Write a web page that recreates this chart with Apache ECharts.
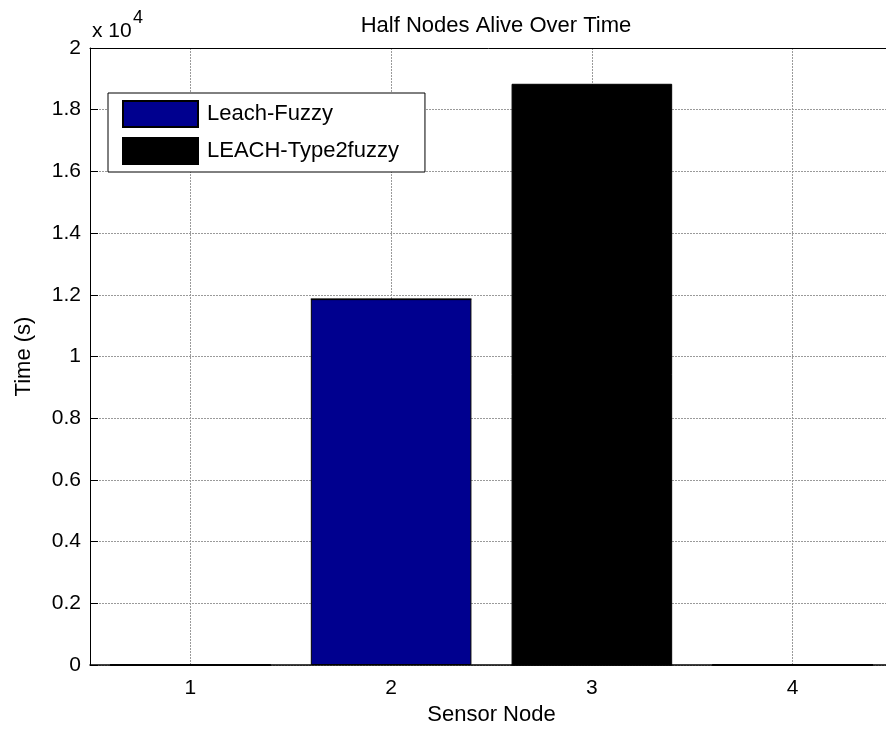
<!DOCTYPE html>
<html>
<head>
<meta charset="utf-8">
<script src="https://cdn.jsdelivr.net/npm/echarts@6/dist/echarts.min.js"></script>
<style>
html,body{margin:0;padding:0;background:#fff;}
#chart{width:886px;height:731px;}
</style>
</head>
<body>
<div id="chart"></div>
<script>
var categories = ['1', '2', '3', '4'];
var leachFuzzy = [0, 11860, 0, 0];
var leachType2 = [0, 0, 18840, 0];
var seriesNames = ['Leach-Fuzzy', 'LEACH-Type2fuzzy'];
var yMin = 0, yMax = 20000, yStep = 2000, yScale = 10000;

var FONT = 'Liberation Sans, Arial, sans-serif';
var chart = echarts.init(document.getElementById('chart'));
var axisTextColor = '#000';

chart.setOption({
  animation: false,
  backgroundColor: '#fff',
  title: {
    text: 'Half Nodes Alive Over Time',
    left: 491, top: 10, textAlign: 'center',
    textStyle: {fontFamily: FONT, fontSize: 22, fontWeight: 'normal', color: '#000'}
  },
  graphic: [
    {type: 'text', left: 92, top: 21, style: {text: 'x 10', fontFamily: FONT, fontSize: 21, fill: '#000'}},
    {type: 'text', left: 133, top: 9, style: {text: '4', fontFamily: FONT, fontSize: 18, fill: '#000'}}
  ],
  legend: {
    orient: 'vertical',
    left: 108, top: 93,
    padding: [7, 26, 7, 14],
    itemWidth: 75, itemHeight: 26, itemGap: 9,
    icon: 'rect',
    backgroundColor: '#fff',
    borderColor: '#000', borderWidth: 1,
    textStyle: {fontFamily: FONT, fontSize: 22, color: '#000', padding: [0, 0, 0, 4]},
    data: seriesNames
  },
  grid: {left: 90, top: 48, width: 803, height: 617, containLabel: false, outerBoundsMode: 'none'},
  xAxis: [{
    type: 'category', data: categories, position: 'bottom',
    name: 'Sensor Node', nameLocation: 'middle', nameGap: 39,
    nameTextStyle: {fontFamily: FONT, fontSize: 22, color: '#000'},
    axisLine: {lineStyle: {color: '#000', width: 1.5}},
    axisTick: {inside: true, length: 7, alignWithLabel: true, lineStyle: {color: '#000'}},
    axisLabel: {fontFamily: FONT, fontSize: 21, color: axisTextColor, margin: 13},
    splitLine: {show: true, alignWithLabel: true, lineStyle: {color: '#9a9a9a', type: [2, 1], width: 1}}
  }, {
    type: 'category', data: categories, position: 'top',
    axisLine: {lineStyle: {color: '#000', width: 1}},
    axisTick: {inside: true, length: 7, alignWithLabel: true, lineStyle: {color: '#000'}},
    axisLabel: {show: false},
    splitLine: {show: false}
  }],
  yAxis: {
    type: 'value', min: yMin, max: yMax, interval: yStep,
    name: 'Time (s)', nameLocation: 'middle', nameGap: 55,
    nameTextStyle: {fontFamily: FONT, fontSize: 22, color: '#000'},
    axisLine: {show: true, lineStyle: {color: '#000', width: 1}},
    axisTick: {show: true, inside: true, length: 8, lineStyle: {color: '#000'}},
    axisLabel: {fontFamily: FONT, fontSize: 21, color: axisTextColor, margin: 9,
      formatter: function (v) { return String(+(v / yScale).toFixed(2)); }},
    splitLine: {show: true, lineStyle: {color: '#9a9a9a', type: [2, 1], width: 1}}
  },
  series: [{
    name: seriesNames[0], type: 'bar', stack: 'all', barWidth: '80%', xAxisIndex: 0,
    itemStyle: {color: '#00008F', borderColor: '#000', borderWidth: 1},
    data: leachFuzzy
  }, {
    name: seriesNames[1], type: 'bar', stack: 'all', barWidth: '80%', xAxisIndex: 0,
    itemStyle: {color: '#000000', borderColor: '#000', borderWidth: 1},
    data: leachType2
  }]
});
</script>
</body>
</html>
